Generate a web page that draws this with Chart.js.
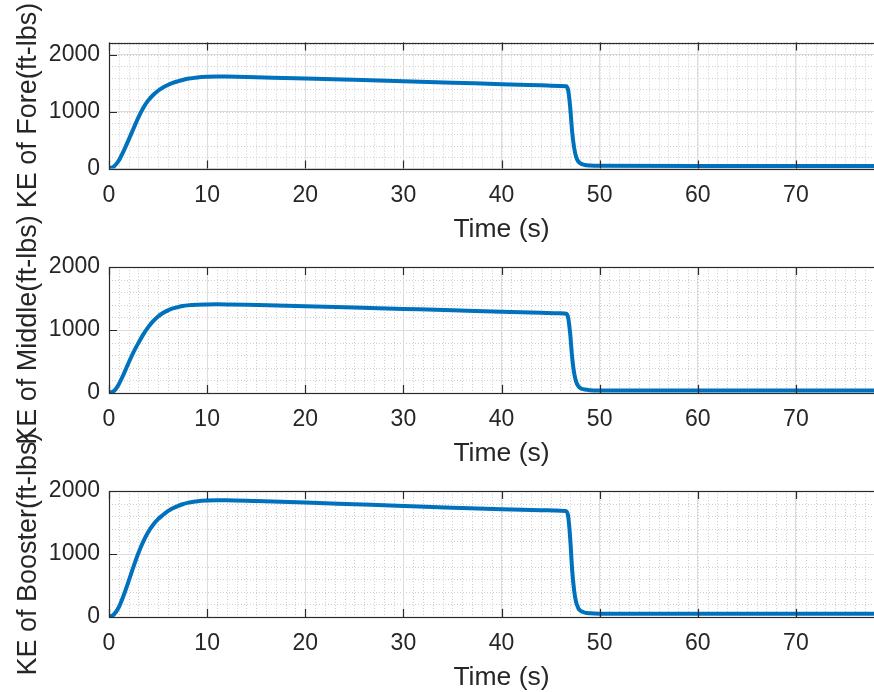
<!DOCTYPE html>
<html>
<head>
<meta charset="utf-8">
<script src="https://cdn.jsdelivr.net/npm/chart.js@4.4.0/dist/chart.umd.min.js"></script>
<style>
  html, body { margin: 0; padding: 0; background: #fff; overflow: hidden; width: 874px; height: 692px; }
  canvas { position: absolute; left: 0; top: 0; }
</style>
</head>
<body>
<canvas id="fore" width="920" height="692"></canvas>
<canvas id="middle" width="920" height="692"></canvas>
<canvas id="booster" width="920" height="692"></canvas>
<script>
// time in seconds, shared by all three panels
const time = [0, 0.5, 1, 1.5, 2, 2.5, 3, 3.5, 4, 4.5, 5, 5.5, 6, 6.5, 7, 7.5, 8, 9, 10, 11, 12,
  15, 20, 25, 30, 35, 40, 44, 46, 46.6, 46.8, 47, 47.2, 47.4, 47.6, 47.8, 48, 48.5, 49, 50, 60, 70, 80];

// kinetic energy (ft-lbs)
const keFore = [0, 35, 140, 310, 505, 705, 900, 1070, 1200, 1295, 1370, 1428, 1472, 1507, 1535, 1560, 1580, 1605, 1616, 1620, 1619,
  1607, 1587, 1563, 1538, 1512, 1485, 1465, 1455, 1448, 1370, 1080, 650, 370, 210, 130, 95, 62, 52, 47, 45, 45, 45];
const keMiddle = [0, 30, 140, 300, 480, 650, 795, 930, 1045, 1140, 1215, 1270, 1312, 1342, 1364, 1380, 1391, 1402, 1406, 1407, 1406,
  1396, 1378, 1357, 1335, 1313, 1290, 1273, 1265, 1258, 1190, 940, 565, 320, 185, 115, 82, 55, 45, 41, 40, 40, 40];
const keBooster = [0, 40, 155, 345, 570, 800, 1015, 1200, 1350, 1465, 1553, 1620, 1680, 1725, 1760, 1790, 1812, 1838, 1850, 1855, 1855,
  1842, 1818, 1790, 1762, 1735, 1710, 1695, 1688, 1680, 1590, 1250, 750, 425, 240, 150, 105, 70, 58, 52, 50, 50, 50];

const xTickValues = [0, 10, 20, 30, 40, 50, 60, 70];
const yTickValues = [0, 1000, 2000];
const xLabel = 'Time (s)';

const FONT = "'Liberation Sans', Arial, Helvetica, sans-serif";
const AXIS_COLOR = '#2b2b2b';

// minor grid (dotted) under everything, box and inward ticks on top
const matlabAxes = {
  id: 'matlabAxes',
  beforeDraw(chart) {
    const ctx = chart.ctx, a = chart.chartArea;
    const xs = chart.scales.x, ys = chart.scales.y;
    ctx.save();
    ctx.strokeStyle = '#cfcfcf';
    ctx.lineWidth = 1;
    ctx.setLineDash([1, 2]);
    ctx.beginPath();
    for (let v = 0; v <= xs.max; v += 1) {
      const px = Math.round(xs.getPixelForValue(v)) + 0.5;
      ctx.moveTo(px, a.top); ctx.lineTo(px, a.bottom);
    }
    for (let v = 0; v <= ys.max; v += 200) {
      const py = Math.round(ys.getPixelForValue(v)) + 0.5;
      ctx.moveTo(a.left, py); ctx.lineTo(a.right, py);
    }
    ctx.stroke();
    ctx.restore();
  },
  afterDatasetsDraw(chart) {
    const ctx = chart.ctx, a = chart.chartArea;
    const xs = chart.scales.x, ys = chart.scales.y;
    const len = 8;
    ctx.save();
    ctx.strokeStyle = AXIS_COLOR;
    ctx.lineWidth = 1.2;
    ctx.beginPath();
    xTickValues.forEach(v => {
      const px = Math.round(xs.getPixelForValue(v)) + 0.5;
      ctx.moveTo(px, a.bottom); ctx.lineTo(px, a.bottom - len);
      ctx.moveTo(px, a.top); ctx.lineTo(px, a.top + len);
    });
    yTickValues.forEach(v => {
      if (v > ys.max) return;
      const py = Math.round(ys.getPixelForValue(v)) + 0.5;
      ctx.moveTo(a.left, py); ctx.lineTo(a.left + len, py);
    });
    ctx.stroke();
    ctx.strokeRect(Math.round(a.left) + 0.5, Math.round(a.top) + 0.5,
      Math.round(a.right - a.left), Math.round(a.bottom - a.top));
    ctx.restore();
  }
};

function makePanel(canvasId, yTitle, values, yMax, top, bottom) {
  const xAxisHeight = 74.4;
  const points = time.map((t, i) => ({ x: t, y: values[i] }));
  return new Chart(document.getElementById(canvasId), {
    type: 'line',
    data: {
      datasets: [{
        data: points,
        borderColor: '#0072BD',
        borderWidth: 4,
        pointRadius: 0,
        fill: false,
        cubicInterpolationMode: 'monotone'
      }]
    },
    options: {
      responsive: false,
      animation: false,
      devicePixelRatio: 1,
      layout: { padding: { top: top, bottom: 692 - bottom - xAxisHeight, left: 0, right: 26 } },
      plugins: { legend: { display: false }, tooltip: { enabled: false } },
      scales: {
        x: {
          type: 'linear',
          min: 0,
          max: 80,
          afterBuildTicks: s => { s.ticks = xTickValues.map(v => ({ value: v })); },
          afterFit: s => { s.height = xAxisHeight; },
          border: { display: false },
          grid: { color: '#dcdcdc', lineWidth: 1, drawTicks: false },
          ticks: { padding: 13, color: '#262626', font: { family: FONT, size: 23 }, maxRotation: 0,
            callback: v => String(v) },
          title: { display: true, text: xLabel, color: '#262626', padding: 0,
            font: { family: FONT, size: 26.5, lineHeight: 1 } }
        },
        y: {
          min: 0,
          max: yMax,
          afterBuildTicks: s => { s.ticks = yTickValues.filter(v => v <= yMax).map(v => ({ value: v })); },
          afterFit: s => { s.width = 109; },
          border: { display: false },
          grid: { color: '#dcdcdc', lineWidth: 1, drawTicks: false },
          ticks: { padding: 9, color: '#262626', font: { family: FONT, size: 23 },
            callback: v => String(v) },
          title: { display: true, text: yTitle, color: '#262626', padding: { top: 15.5, bottom: 0 },
            font: { family: FONT, size: 27, lineHeight: 1 } }
        }
      }
    },
    plugins: [matlabAxes]
  });
}

makePanel('fore', 'KE of Fore(ft-lbs)', keFore, 2220, 42.5, 168.5);
makePanel('middle', 'KE of Middle(ft-lbs)', keMiddle, 2000, 267, 393);
makePanel('booster', 'KE of Booster(ft-lbs)', keBooster, 2000, 491, 617);
</script>
</body>
</html>
